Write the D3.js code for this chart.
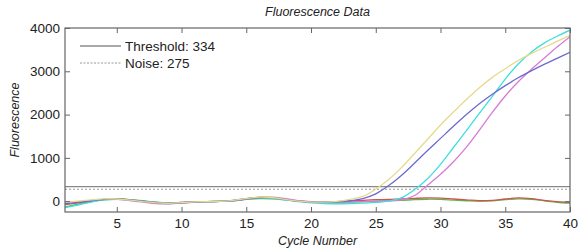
<!DOCTYPE html>
<html>
<head>
<meta charset="utf-8">
<script src="https://cdn.jsdelivr.net/npm/d3@7"></script>
<style>
  body { margin: 0; background: #fff; }
  svg text { font-family: "Liberation Sans", Arial, sans-serif; fill: #222; }
</style>
</head>
<body>
<div id="chart"></div>
<script>
// DATA
const cycles = d3.range(1, 41);
const xTicks = [5, 10, 15, 20, 25, 30, 35, 40];
const yTicks = [0, 1000, 2000, 3000, 4000];
const threshold = 334;
const noise = 275;

const flatRed = [-80, -40, 0, 40, 50, 30, 0, -30, -45, -30, -15, -10, -5, 20, 60, 90, 80, 40, 5, -15,
                 -20, -15, 0, 20, 35, 40, 50, 65, 75, 70, 50, 30, 10, 20, 50, 75, 60, 20, -10, -25];
const flatGreen = [-130, -70, -10, 30, 50, 35, 10, -20, -35, -30, -20, -10, -5, 10, 40, 60, 55, 30, 0, -20,
                   -30, -30, -20, -10, 0, 10, 20, 35, 45, 40, 25, 10, 0, 10, 35, 55, 45, 10, -25, -45];
const ampYellow = [-20, 0, 30, 55, 50, 25, -10, -40, -50, -35, -15, -10, -5, 20, 60, 95, 85, 40, 0, -20,
                   -20, -5, 40, 110, 280, 500, 780, 1100, 1430, 1760, 2060, 2350, 2620, 2860, 3060, 3250, 3410, 3550, 3690, 3830];
const ampSlate = [-60, -30, 10, 40, 50, 30, -5, -40, -55, -40, -20, -10, -5, 15, 50, 85, 80, 40, 0, -20,
                  -25, -10, 10, 60, 170, 360, 600, 880, 1170, 1450, 1730, 2000, 2250, 2470, 2670, 2850, 3010, 3160, 3300, 3440];
const ampCyan = [-150, -90, -20, 30, 45, 30, 0, -30, -45, -35, -20, -10, 0, 20, 55, 80, 70, 30, -10, -40,
                 -55, -60, -55, -45, -30, 0, 80, 270, 520, 850, 1240, 1630, 2030, 2420, 2820, 3170, 3440, 3650, 3810, 3950];
const ampMagenta = [-20, -10, 15, 40, 40, 15, -20, -55, -60, -45, -20, -10, -5, 10, 45, 80, 95, 60, 15, -10,
                    -20, -20, -15, -10, 0, 10, 30, 130, 370, 620, 910, 1250, 1640, 2050, 2430, 2760, 3040, 3300, 3560, 3800];

const series = [
  {values: flatGreen, color: "#4cc04c"},
  {values: flatRed, color: "#d65050"},
  {values: ampMagenta, color: "#d77bd7"},
  {values: ampCyan, color: "#3fdede"},
  {values: ampSlate, color: "#6b6bcf"},
  {values: ampYellow, color: "#e6d98c"}
];

// DIMENSIONS
const width = 579, height = 251;
const plot = {left: 65, right: 570, top: 28, bottom: 212};

const svg = d3.select("#chart").append("svg")
    .attr("width", width)
    .attr("height", height);

const xScale = d3.scaleLinear().domain([1, 40]).range([plot.left, plot.right]);
const yScale = d3.scaleLinear().domain([-250, 4000]).range([plot.bottom, plot.top]);

svg.append("clipPath").attr("id", "clip")
  .append("rect")
    .attr("x", plot.left).attr("y", plot.top)
    .attr("width", plot.right - plot.left).attr("height", plot.bottom - plot.top);

// THRESHOLD / NOISE
svg.append("line")
    .attr("x1", plot.left).attr("x2", plot.right)
    .attr("y1", yScale(threshold)).attr("y2", yScale(threshold))
    .attr("stroke", "#888").attr("stroke-width", 1.2);
svg.append("line")
    .attr("x1", plot.left).attr("x2", plot.right)
    .attr("y1", yScale(noise)).attr("y2", yScale(noise))
    .attr("stroke", "#999").attr("stroke-width", 1.2)
    .attr("stroke-dasharray", "2,2");

// CURVES
const line = d3.line()
    .x((d, i) => xScale(cycles[i]))
    .y(d => yScale(d))
    .curve(d3.curveCatmullRom.alpha(0.5));

svg.append("g").attr("clip-path", "url(#clip)")
  .selectAll("path")
  .data(series)
  .join("path")
    .attr("d", d => line(d.values))
    .attr("fill", "none")
    .attr("stroke", d => d.color)
    .attr("stroke-width", 1.3);

// AXES
const axisColor = "#666";
function styleAxis(g) {
  g.select(".domain").remove();
  g.selectAll("line").attr("stroke", axisColor);
  g.selectAll("text").style("font-size", "13.5px").attr("fill", "#222");
}

svg.append("g")
    .attr("transform", "translate(0," + plot.bottom + ")")
    .call(d3.axisBottom(xScale).tickValues(xTicks).tickSizeInner(-5).tickSizeOuter(0).tickPadding(6))
    .call(styleAxis);
svg.append("g")
    .attr("transform", "translate(0," + plot.top + ")")
    .call(d3.axisTop(xScale).tickValues(xTicks).tickSizeInner(-5).tickSizeOuter(0).tickFormat(""))
    .call(styleAxis);
svg.append("g")
    .attr("transform", "translate(" + plot.left + ",0)")
    .call(d3.axisLeft(yScale).tickValues(yTicks).tickFormat(d3.format("d")).tickSizeInner(-5).tickSizeOuter(0).tickPadding(5))
    .call(styleAxis);
svg.append("g")
    .attr("transform", "translate(" + plot.right + ",0)")
    .call(d3.axisRight(yScale).tickValues(yTicks).tickSizeInner(-5).tickSizeOuter(0).tickFormat(""))
    .call(styleAxis);

svg.append("rect")
    .attr("x", plot.left).attr("y", plot.top)
    .attr("width", plot.right - plot.left).attr("height", plot.bottom - plot.top)
    .attr("fill", "none").attr("stroke", axisColor).attr("stroke-width", 1.2);

// LABELS
const midX = (plot.left + plot.right) / 2;
svg.append("text")
    .attr("x", midX).attr("y", 16)
    .attr("text-anchor", "middle")
    .style("font-size", "12.5px").style("font-style", "italic")
    .text("Fluorescence Data");
svg.append("text")
    .attr("x", midX).attr("y", 245)
    .attr("text-anchor", "middle")
    .style("font-size", "12.5px").style("font-style", "italic")
    .text("Cycle Number");
svg.append("text")
    .attr("transform", "translate(19," + ((plot.top + plot.bottom) / 2) + ") rotate(-90)")
    .attr("text-anchor", "middle")
    .style("font-size", "12.5px").style("font-style", "italic")
    .text("Fluorescence");

// LEGEND
const legend = svg.append("g");
legend.append("line")
    .attr("x1", 80).attr("x2", 121).attr("y1", 46).attr("y2", 46)
    .attr("stroke", "#555").attr("stroke-width", 1.2);
legend.append("text")
    .attr("x", 125).attr("y", 51)
    .style("font-size", "13.5px")
    .text("Threshold: " + threshold);
legend.append("line")
    .attr("x1", 80).attr("x2", 121).attr("y1", 63).attr("y2", 63)
    .attr("stroke", "#999").attr("stroke-width", 1.2)
    .attr("stroke-dasharray", "2,1.5");
legend.append("text")
    .attr("x", 125).attr("y", 68)
    .style("font-size", "13.5px")
    .text("Noise: " + noise);
</script>
</body>
</html>
